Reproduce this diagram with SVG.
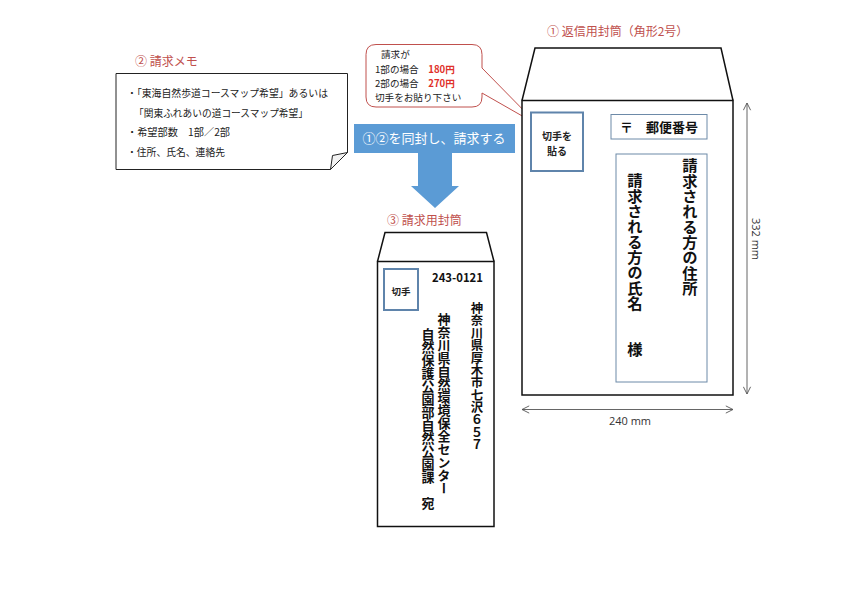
<svg xmlns="http://www.w3.org/2000/svg" width="858" height="594" viewBox="0 0 858 594">
<defs>
<style>
.jp{font-family:"Noto Sans CJK JP","Noto Sans",sans-serif}
.red{fill:#c0504d;font-size:12px}
.memo{font-size:10px;fill:#222}
.bub{font-size:9.6px;fill:#222}
.env{fill:#fff;stroke:#111;stroke-width:1.5}
.box{fill:#fff;stroke:#6d8aa8;stroke-width:1}
.stamp{fill:#fff;stroke:#5f84ab;stroke-width:2}
.vt{writing-mode:vertical-rl;font-weight:bold;fill:#111}
.dim{stroke:#666;stroke-width:1;fill:none}
.dimt{font-family:"Open Sans","Liberation Sans",sans-serif;font-size:11px;fill:#333}
</style>
<marker id="chev" viewBox="0 0 10 10" refX="9" refY="5" markerWidth="9" markerHeight="9" orient="auto-start-reverse" markerUnits="userSpaceOnUse">
<path d="M1,1 L9,5 L1,9" fill="none" stroke="#555" stroke-width="1"/>
</marker>
</defs>
<rect width="858" height="594" fill="#fff"/>

<g id="memo">
<text class="jp red" x="135" y="66">② 請求メモ</text>
<path d="M116,73.5 H347.5 V152.5 L330.5,169.5 H116 Z" fill="#fff" stroke="#222" stroke-width="1"/>
<path d="M330.5,169.5 L332.5,155.5 L347.5,152.5 Z" fill="#f2f2f2" stroke="#222" stroke-width="1"/>
<text class="jp memo" x="127" y="97" textLength="201" lengthAdjust="spacingAndGlyphs">・「東海自然歩道コースマップ希望」あるいは</text>
<text class="jp memo" x="134" y="117" textLength="174" lengthAdjust="spacingAndGlyphs">「関東ふれあいの道コースマップ希望」</text>
<text class="jp memo" x="127" y="136" textLength="103" lengthAdjust="spacingAndGlyphs">・希望部数　1部／2部</text>
<text class="jp memo" x="127" y="156" textLength="98" lengthAdjust="spacingAndGlyphs">・住所、氏名、連絡先</text>
</g>

<g id="bubble">
<path d="M376,44.5 H472 Q482,44.5 482,54.5 V68 L538,125 L482,93 V97 Q482,107 472,107 H376 Q366,107 366,97 V54.5 Q366,44.5 376,44.5 Z" fill="#fff" stroke="#c0504d" stroke-width="1"/>
<text class="jp bub" x="381" y="58">請求が</text>
<text class="jp bub" x="375" y="72.5">1部の場合　<tspan fill="#e0302a" font-weight="bold">180円</tspan></text>
<text class="jp bub" x="375" y="86.5">2部の場合　<tspan fill="#e0302a" font-weight="bold">270円</tspan></text>
<text class="jp bub" x="375" y="100.5">切手をお貼り下さい</text>
</g>

<g id="banner">
<rect x="354" y="124" width="161" height="29" fill="#5b9bd5"/>
<text class="jp" x="434" y="143" font-size="13" fill="#fff" text-anchor="middle">①②を同封し、請求する</text>
<path d="M418,153 H452 V186 H459 L435,208 L411,186 H418 Z" fill="#5b9bd5"/>
</g>

<g id="return-envelope">
<text class="jp red" x="547" y="36">① 返信用封筒（角形2号）</text>
<path d="M522,100.5 L535,48 H721 L733,100.5" class="env"/>
<rect x="522" y="100.5" width="211" height="294.5" class="env"/>
<rect x="531" y="112.5" width="52" height="58.5" class="stamp"/>
<text class="jp" x="557" y="140" font-size="10" font-weight="bold" text-anchor="middle" fill="#222">切手を</text>
<text class="jp" x="557" y="155" font-size="10" font-weight="bold" text-anchor="middle" fill="#222">貼る</text>
<rect x="611" y="114.5" width="96" height="24.5" class="box"/>
<text class="jp" x="620" y="132" font-size="13" font-weight="bold" fill="#111">〒　郵便番号</text>
<rect x="616" y="154" width="91" height="228" class="box"/>
<text class="jp vt" x="690" y="158" font-size="15.3">請求される方の住所</text>
<text class="jp vt" x="635" y="173" font-size="15.3">請求される方の氏名　　様</text>
</g>

<g id="request-envelope">
<text class="jp red" x="387" y="225">③ 請求用封筒</text>
<path d="M377.5,261.5 L385,232.5 H486.5 L494,261.5" class="env"/>
<rect x="377.5" y="261.5" width="116.5" height="265" class="env"/>
<rect x="384" y="269" width="34" height="41" class="stamp"/>
<text class="jp" x="401" y="295" font-size="9.5" font-weight="bold" text-anchor="middle" fill="#222">切手</text>
<text class="jp" x="432" y="282" font-size="12" font-weight="bold" fill="#111" textLength="51" lengthAdjust="spacingAndGlyphs">243-0121</text>
<text class="jp vt" x="477" y="302" font-size="12.4">神奈川県厚木市七沢６５７</text>
<text class="jp vt" x="444" y="313" font-size="13">神奈川県自然環境保全センター</text>
<text class="jp vt" x="428" y="328" font-size="13">自然保護公園部自然公園課　宛</text>
</g>

<g id="connectors">
<line x1="747" y1="103" x2="747" y2="394" class="dim" marker-start="url(#chev)" marker-end="url(#chev)"/>
<line x1="522" y1="409.5" x2="733" y2="409.5" class="dim" marker-start="url(#chev)" marker-end="url(#chev)"/>
</g>
<text class="dimt" transform="translate(752,239) rotate(90)" text-anchor="middle">332 mm</text>
<text class="dimt" x="630" y="425" text-anchor="middle">240 mm</text>
</svg>
